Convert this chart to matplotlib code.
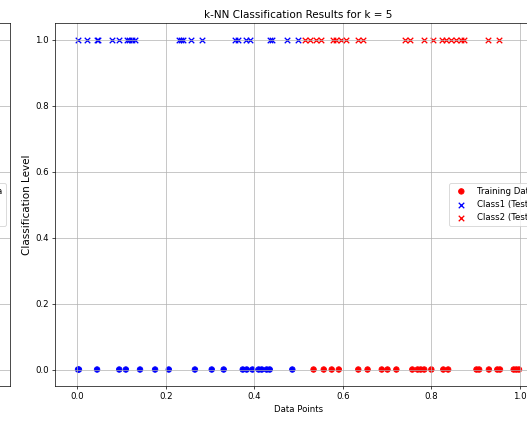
import numpy as np
import matplotlib
matplotlib.use("Agg")
import matplotlib.pyplot as plt

# training points (y = 0), by class
train_class1 = [0.002, 0.004, 0.045, 0.095, 0.110, 0.142, 0.176, 0.207, 0.266, 0.304,
                0.331, 0.374, 0.383, 0.396, 0.410, 0.417, 0.428, 0.435, 0.486]
train_class2 = [0.534, 0.557, 0.575, 0.591, 0.635, 0.656, 0.688, 0.701, 0.721, 0.757,
                0.769, 0.776, 0.784, 0.800, 0.827, 0.838, 0.902, 0.908, 0.930, 0.949,
                0.955, 0.986, 0.992, 0.998]

# test points (y = 1) by predicted class
test_class1 = [0.001, 0.022, 0.045, 0.048, 0.078, 0.095, 0.112, 0.116, 0.123, 0.131,
               0.230, 0.234, 0.239, 0.258, 0.281, 0.356, 0.363, 0.382, 0.390, 0.435,
               0.441, 0.474, 0.498]
test_class2 = [0.514, 0.525, 0.540, 0.550, 0.577, 0.585, 0.596, 0.607, 0.634, 0.645,
               0.741, 0.752, 0.784, 0.804, 0.825, 0.833, 0.844, 0.855, 0.866, 0.874,
               0.929, 0.953]

k = 5

dpi = 62.5
fig = plt.figure(figsize=(527 / dpi, 421 / dpi), dpi=dpi)

# neighbouring subplot, only its right edge shows
ax0 = fig.add_axes([0.019 - 0.9241, 0.0831, 0.9241, 0.8622])
ax1 = fig.add_axes([0.1044, 0.0831, 0.9241, 0.8622])

for ax in (ax0, ax1):
    x_train = np.array(train_class2 + train_class1)
    c_train = ['red'] * len(train_class2) + ['blue'] * len(train_class1)
    ax.scatter(x_train, np.zeros_like(x_train), c=c_train, marker='o', s=40,
               label='Training Data')
    ax.scatter(test_class1, np.ones(len(test_class1)), c='blue', marker='x', s=40,
               label='Class1 (Test)')
    ax.scatter(test_class2, np.ones(len(test_class2)), c='red', marker='x', s=40,
               label='Class2 (Test)')
    ax.set_xlim(-0.05, 1.05)
    ax.set_ylim(-0.05, 1.05)
    ax.grid(True)
    ax.legend(loc='center right')

ax1.set_title(f'k-NN Classification Results for k = {k}')
ax1.set_xlabel('Data Points')
ax1.set_ylabel('Classification Level', fontsize=12)

fig.savefig('out.png', dpi=dpi)
